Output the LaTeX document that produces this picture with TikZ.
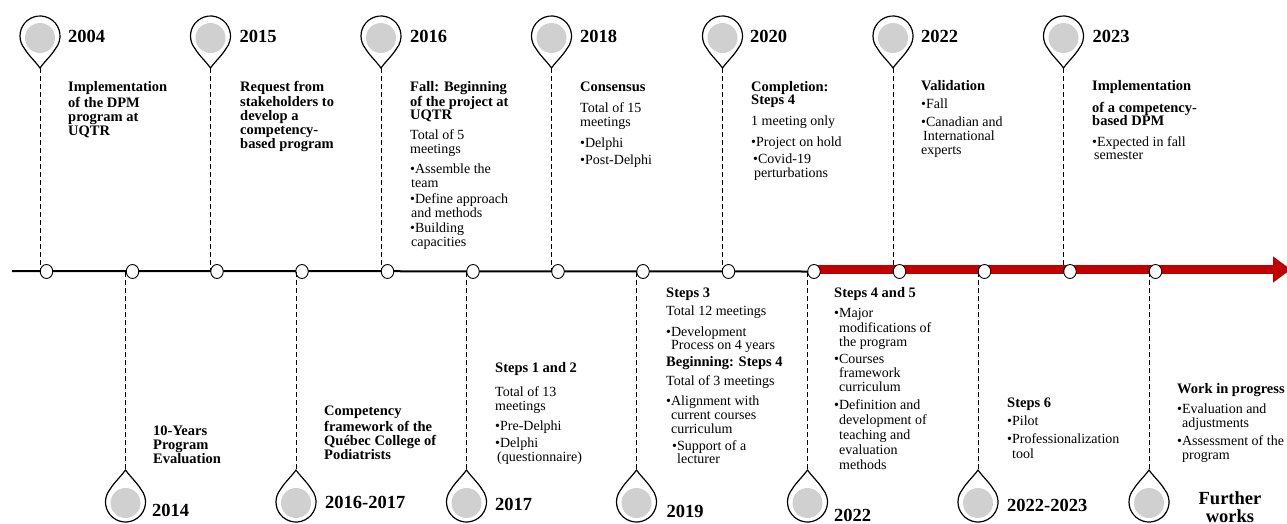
\documentclass[tikz,border=0pt]{standalone}
\usepackage{fontspec}
\setmainfont{Liberation Serif}
\usetikzlibrary{shapes.geometric,arrows.meta}
\definecolor{tlred}{HTML}{C00000}
\definecolor{pingray}{HTML}{D0D0D0}
\newcommand\mybf[1]{{\fontsize{14.5}{14}\selectfont\bfseries #1}}
\newcommand\tlbul{\textbullet}
\begin{document}
\begin{tikzpicture}[x=1pt,y=1pt,
  txt/.style={anchor=north west, inner sep=0pt, align=left, font=\fontsize{14}{14}\selectfont},
  yr/.style={anchor=base west, inner sep=0pt, font=\fontsize{18.5}{18.5}\selectfont\bfseries},
  dot/.style={ellipse, draw, fill=white, line width=0.9pt, minimum width=12.5pt, minimum height=14pt, inner sep=0pt},
  dashline/.style={dash pattern=on 5pt off 3pt, line width=1pt},
  pinline/.style={draw=black, fill=white, line width=1.2pt},
  pindown/.pic={
    \path[pinline] (0,0) .. controls (5,7) and (11,12) .. (15.61,19.5) arc[start angle=-38.7, end angle=218.7, radius=20] .. controls (-11,12) and (-5,7) .. (0,0) -- cycle;
    \fill[pingray] (0,30) circle[radius=15];
    \coordinate (-tip) at (0,0);
  },
  pinup/.pic={
    \path[pinline] (0,0) .. controls (5,-7) and (11,-12) .. (15.61,-19.5) arc[start angle=38.7, end angle=-218.7, radius=20] .. controls (-11,-12) and (-5,-7) .. (0,0) -- cycle;
    \fill[pingray] (0,-33) circle[radius=15];
    \coordinate (-tip) at (0,0);
  }]
\useasboundingbox (0,0) rectangle (1287,-523);

% timeline positions
\coordinate (c1) at (46.5,-271.5);
\coordinate (c2) at (132.5,-271.5);
\coordinate (c3) at (217,-271.5);
\coordinate (c4) at (302,-271.5);
\coordinate (c5) at (387.5,-271.5);
\coordinate (c6) at (473,-271.5);
\coordinate (c7) at (558,-271.5);
\coordinate (c8) at (643,-271.5);
\coordinate (c9) at (728.5,-271.5);
\coordinate (c10) at (814,-271.5);
\coordinate (c11) at (899.5,-271.5);
\coordinate (c12) at (984.5,-271.5);
\coordinate (c13) at (1070,-271.5);
\coordinate (c14) at (1155.5,-271.5);
\coordinate (tlstart) at (12,-271);
\coordinate (redstart) at (812,-269.5);
\coordinate (redend) at (1291,-269.5);

\draw[line width=2pt] (tlstart) -- (c10);
\draw[tlred, line width=8.5pt, -{Triangle[length=18pt,width=25pt]}] (redstart) -- (redend);

\foreach \i in {1,...,14} { \node[dot] (d\i) at (c\i) {}; }

% top pins
\pic (p2004) at (40,-68) {pindown};
\pic (p2015) at (210.5,-68) {pindown};
\pic (p2016) at (381,-68) {pindown};
\pic (p2018) at (551.5,-68) {pindown};
\pic (p2020) at (722.5,-68) {pindown};
\pic (p2022) at (893,-68) {pindown};
\pic (p2023) at (1063.5,-68) {pindown};

% bottom pins
\pic (q2014) at (125.5,-470) {pinup};
\pic (q2016) at (296,-470) {pinup};
\pic (q2017) at (466.5,-470) {pinup};
\pic (q2019) at (636.5,-470) {pinup};
\pic (q2022) at (807.5,-470) {pinup};
\pic (q2023) at (978,-470) {pinup};
\pic (qfw) at (1149,-470) {pinup};

% dashed connectors
\draw[dashline] (p2004-tip) -- (p2004-tip |- d1.center);
\draw[dashline] (p2015-tip) -- (p2015-tip |- d3.center);
\draw[dashline] (p2016-tip) -- (p2016-tip |- d5.center);
\draw[dashline] (p2018-tip) -- (p2018-tip |- d7.center);
\draw[dashline] (p2020-tip) -- (p2020-tip |- d9.center);
\draw[dashline] (p2022-tip) -- (p2022-tip |- d11.center);
\draw[dashline] (p2023-tip) -- (p2023-tip |- d13.center);
\draw[dashline] (q2014-tip |- d2.center) -- (q2014-tip);
\draw[dashline] (q2016-tip |- d4.center) -- (q2016-tip);
\draw[dashline] (q2017-tip |- d6.center) -- (q2017-tip);
\draw[dashline] (q2019-tip |- d8.center) -- (q2019-tip);
\draw[dashline] (q2022-tip |- d10.center) -- (q2022-tip);
\draw[dashline] (q2023-tip |- d12.center) -- (q2023-tip);
\draw[dashline] (qfw-tip |- d14.center) -- (qfw-tip);

% year labels
\node[yr] (y2004) at (68,-42.5) {2004};
\node[yr] (y2015) at (239.5,-42.5) {2015};
\node[yr] (y2016) at (410,-42.5) {2016};
\node[yr] (y2018) at (580,-42.5) {2018};
\node[yr] (y2020) at (750,-42.5) {2020};
\node[yr] (y2022t) at (921,-42.5) {2022};
\node[yr] (y2023) at (1092.5,-42.5) {2023};
\node[yr] (y2014) at (152,-516) {2014};
\node[yr] (y1617) at (325,-508) {2016-2017};
\node[yr] (y2017) at (495,-510) {2017};
\node[yr] (y2019) at (666.5,-517) {2019};
\node[yr] (y2022b) at (834,-521.5) {2022};
\node[yr] (y2223) at (1007,-511.5) {2022-2023};
\node[anchor=north, inner sep=0pt, align=center, font=\fontsize{18.5}{17}\selectfont\bfseries] (yfw) at (1230,-491) {\strut Further\\works};

% top texts
\node[txt] (t2004) at (68,-81.7) {\strut\mybf{Implementation}\\\mybf{of the DPM}\\\mybf{program at}\\\mybf{UQTR}};
\node[txt] (t2015) at (240,-80.7) {\strut\mybf{Request from}\\\mybf{stakeholders to}\\\mybf{develop a}\\\mybf{competency-}\\\mybf{based program}};
\node[txt] (t2016) at (410,-81.7) {\strut\mybf{Fall: Beginning}\\[-0.7pt]\mybf{of the project at}\\[-0.7pt]\mybf{UQTR}\\[6pt]Total of 5\\meetings\\[6pt]\tlbul Assemble the\\\hspace*{1pt}team\\[2pt]\tlbul Define approach\\\hspace*{1pt}and methods\\[1pt]\tlbul Building\\\hspace*{1pt}capacities};
\node[txt] (t2018) at (580,-81.7) {\strut\mybf{Consensus}\\[6pt]Total of 15\\meetings\\[7pt]\tlbul Delphi\\[3pt]\tlbul Post-Delphi};
\node[txt] (t2020) at (751,-81.7) {\strut\mybf{Completion:}\\[-1pt]\mybf{Steps 4}\\[7pt]1 meeting only\\[7pt]\tlbul Project on hold\\[3pt]\hspace*{2pt}\tlbul Covid-19\\\hspace*{3pt}perturbations};
\node[txt] (t2022) at (921,-80.7) {\strut\mybf{Validation}\\[4pt]\tlbul Fall\\[4pt]\tlbul Canadian and\\\hspace*{2pt}International\\experts};
\node[txt] (t2023) at (1092,-80.7) {\strut\mybf{Implementation}\\[6pt]\mybf{of a competency-}\\[-1pt]\mybf{based DPM}\\[7pt]\tlbul Expected in fall\\[-1pt]\hspace*{2pt}semester};

% bottom texts
\node[txt] (b2014) at (153,-425.7) {\strut\mybf{10-Years}\\\mybf{Program}\\\mybf{Evaluation}};
\node[txt] (b1617) at (324,-405.7) {\strut\mybf{Competency}\\\mybf{framework of the}\\\mybf{Québec College of}\\\mybf{Podiatrists}};
\node[txt] (b2017) at (495,-362.7) {\strut\mybf{Steps 1 and 2}\\[8pt]Total of 13\\meetings\\[6pt]\tlbul Pre-Delphi\\[3pt]\tlbul Delphi\\\hspace*{2pt}(questionnaire)};
\node[txt] (b2019) at (666,-287.7) {\strut\mybf{Steps 3}\\[4pt]Total 12 meetings\\[7pt]\tlbul Development\\[-1pt]\hspace*{5pt}Process on 4 years\\[3pt]\mybf{Beginning: Steps 4}\\[5pt]Total of 3 meetings\\[6pt]\tlbul Alignment with\\\hspace*{5pt}current courses\\\hspace*{5pt}curriculum\\[3pt]\hspace*{6pt}\tlbul Support of a\\[-1pt]\hspace*{11pt}lecturer};
\node[txt] (b2022) at (834,-287.7) {\strut\mybf{Steps 4 and 5}\\[6pt]\tlbul Major\\[0.5pt]\hspace*{5pt}modifications of\\\hspace*{5pt}the program\\[3pt]\tlbul Courses\\\hspace*{5pt}framework\\\hspace*{5pt}curriculum\\[4pt]\tlbul Definition and\\[1pt]\hspace*{5pt}development of\\[1pt]\hspace*{5pt}teaching and\\[1pt]\hspace*{5pt}evaluation\\[1pt]\hspace*{5pt}methods};
\node[txt] (b2223) at (1007,-397.7) {\strut\mybf{Steps 6}\\[4pt]\tlbul Pilot\\[4pt]\tlbul Professionalization\\[1pt]\hspace*{5pt}tool};
\node[txt] (bfw) at (1177,-383.7) {\strut\mybf{Work in progress}\\[6pt]\tlbul Evaluation and\\\hspace*{5pt}adjustments\\[4pt]\tlbul Assessment of the\\\hspace*{5pt}program};
\end{tikzpicture}
\end{document}
